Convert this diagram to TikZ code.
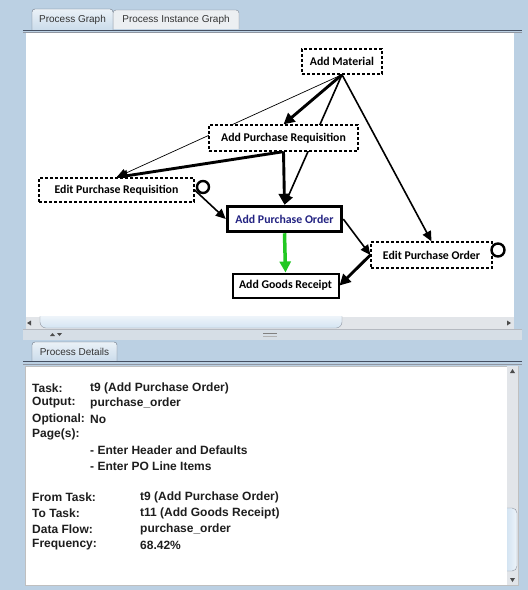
\documentclass[tikz,border=0pt]{standalone}
\usepackage{fontspec}
\setmainfont{Liberation Sans}
\newfontfamily\taskfont{Carlito}
\usepackage{xcolor}
\usetikzlibrary{arrows.meta,positioning}

\definecolor{framebg}{RGB}{187,208,227}
\definecolor{tabsel}{RGB}{203,220,235}
\definecolor{tabplain}{RGB}{236,239,242}
\definecolor{rulecol}{RGB}{70,80,98}
\definecolor{trackcol}{RGB}{226,229,233}
\definecolor{thumbcol}{RGB}{212,228,242}
\definecolor{bandcol}{RGB}{214,222,230}
\definecolor{ordertext}{RGB}{35,35,130}
\definecolor{flowgreen}{RGB}{34,200,34}
\definecolor{detailtext}{RGB}{30,30,30}

\pgfdeclarelayer{back}
\pgfdeclarelayer{edges}
\pgfsetlayers{back,edges,main}

\tikzset{
  task/.style={draw, fill=white, line width=1.3pt, dash pattern=on 3pt off 2pt,
    font=\taskfont\bfseries\fontsize{11.8}{13}\selectfont, minimum height=25pt, inner sep=0pt},
  loopmark/.style={circle, draw, fill=white, line width=2.4pt, inner sep=0pt},
  thinedge/.style={line width=0.7pt, -{Triangle[length=10pt,width=9pt]}},
  midedge/.style={line width=1.6pt, -{Triangle[length=10pt,width=9pt]}},
  thickedge/.style={line width=2.9pt, -{Triangle[length=11pt,width=11pt]}},
  tablbl/.style={font=\fontsize{10}{12}\selectfont, text=black!80, inner sep=0pt},
  detail/.style={anchor=west, font=\bfseries\fontsize{12}{14}\selectfont, text=detailtext, inner sep=0pt},
  tinytri/.style={fill=black!70}
}

\begin{document}
\begin{tikzpicture}[x=1pt,y=-1pt]
  \useasboundingbox (0,0) rectangle (528,590);

  \begin{pgfonlayer}{back}
    \fill[framebg] (0,0) rectangle (528,590);
    % upper panel
    \draw[rulecol!70, fill=tabplain, rounded corners=3pt] (113,29) -- (113,10) -- (239,10) -- (239,29);
    \draw[rulecol!80, top color=white!60!tabsel, bottom color=tabsel, rounded corners=3pt] (32,30) -- (32,9) -- (113,9) -- (113,30);
    \draw[rulecol, line width=1pt] (23,30) -- (522,30);
    \draw[rulecol!60, line width=0.8pt] (23,32) -- (522,32);
    \fill[white] (26,33) rectangle (514,317);
    % horizontal scrollbar
    \fill[trackcol] (26,317) rectangle (514,329);
    \draw[rulecol!60, top color=thumbcol!40, bottom color=thumbcol, rounded corners=6pt] (40,316) -- (40,328) -- (342,328) -- (342,316);
    \fill[tinytri] (27,323) -- (31,320.5) -- (31,325.5) -- cycle;
    \fill[tinytri] (511,323) -- (507,320.5) -- (507,325.5) -- cycle;
    % split band
    \fill[bandcol] (23,329) rectangle (522,340);
    \draw[rulecol!40] (23,329) -- (522,329);
    \fill[tinytri] (50,336) -- (52.5,333) -- (55,336) -- cycle;
    \fill[tinytri] (57,333) -- (59.5,336) -- (62,333) -- cycle;
    \draw[black!50] (263,333.5) -- (277,333.5);
    \draw[black!30] (263,336) -- (277,336);
    % lower panel
    \draw[rulecol!80, top color=white!60!tabsel, bottom color=tabsel, rounded corners=3pt] (32,361) -- (32,342) -- (117,342) -- (117,361);
    \draw[rulecol, line width=1pt] (23,361) -- (522,361);
    \draw[rulecol!60, line width=0.8pt] (23,364) -- (522,364);
    \fill[white] (25,366) rectangle (507,585);
    \draw[black!25] (25,366) rectangle (518,585);
    % vertical scrollbar
    \fill[trackcol] (507,366) rectangle (518,585);
    \draw[rulecol!60, left color=thumbcol, right color=thumbcol!40, rounded corners=5pt] (507,508) -- (517,508) -- (517,571) -- (507,571);
    \fill[tinytri] (512.5,369) -- (510,373) -- (515,373) -- cycle;
    \fill[tinytri] (512.5,582) -- (510,578) -- (515,578) -- cycle;
  \end{pgfonlayer}

  \node[tablbl] (graphtab) at (72.5,19.5) {Process Graph};
  \node[tablbl] (instancetab) at (176,19.5) {Process Instance Graph};
  \node[tablbl] (detailstab) at (74.5,352) {Process Details};

  % tasks
  \node[task, minimum width=80pt] (material) at (342,61.5) {Add Material};
  \node[task, minimum width=149pt, minimum height=26pt] (addreq) at (283.5,138) {Add Purchase Requisition};
  \node[task, minimum width=155pt, minimum height=24pt] (editreq) at (116.5,190) {Edit Purchase Requisition};
  \node[task, solid, line width=3.5pt, minimum width=114pt, minimum height=25pt, text=ordertext] (addorder) at (284.5,219) {Add Purchase Order};
  \node[task, minimum width=121pt, minimum height=26pt] (editorder) at (431.5,255) {Edit Purchase Order};
  \node[task, solid, line width=2pt, minimum width=106pt, minimum height=24pt] (receipt) at (285.5,285.5) {Add Goods Receipt};

  \node[loopmark, minimum size=12pt] (editreqloop) at (203,187) {};
  \node[loopmark, minimum size=13pt] (editorderloop) at (498,250) {};

  \begin{pgfonlayer}{edges}
    \draw[thickedge] (material.south) -- (addreq.north);
    \draw[midedge] (material.south) -- (addorder.north);
    \draw[thinedge] (material.south) -- (editreq.north);
    \draw[midedge] (material.south) -- (editorder.north);
    \draw[thickedge] (addreq.south) -- (addorder.north);
    \draw[thickedge] (addreq.south) -- (editreq.north);
    \draw[midedge] (editreq.east) -- (addorder.west);
    \draw[midedge] (addorder.east) -- (editorder.west);
    \draw[thickedge] (editorder.west) -- (receipt.east);
    \draw[flowgreen, line width=3.5pt, -{Triangle[length=11pt,width=11pt]}] (addorder.south) -- (receipt.north);
  \end{pgfonlayer}

  % details
  \node[detail] (tasklbl) at (32,388) {Task:};
  \node[detail] (taskval) at (90,388) {t9 (Add Purchase Order)};
  \node[detail] (outlbl) at (32,403) {Output:};
  \node[detail] (outval) at (90,403) {purchase\_order};
  \node[detail] (optlbl) at (32,419) {Optional:};
  \node[detail] (optval) at (90,419) {No};
  \node[detail] (pagelbl) at (32,434) {Page(s):};
  \node[detail] (pageone) at (90,450) {- Enter Header and Defaults};
  \node[detail] (pagetwo) at (90,466) {- Enter PO Line Items};

  \node[detail] (fromlbl) at (32,497) {From Task:};
  \node[detail] (fromval) at (140,497) {t9 (Add Purchase Order)};
  \node[detail] (tolbl) at (32,513) {To Task:};
  \node[detail] (toval) at (140,513) {t11 (Add Goods Receipt)};
  \node[detail] (flowlbl) at (32,529) {Data Flow:};
  \node[detail] (flowval) at (140,529) {purchase\_order};
  \node[detail] (freqlbl) at (32,545) {Frequency:};
  \node[detail] (freqval) at (140,545) {68.42\%};
\end{tikzpicture}
\end{document}
